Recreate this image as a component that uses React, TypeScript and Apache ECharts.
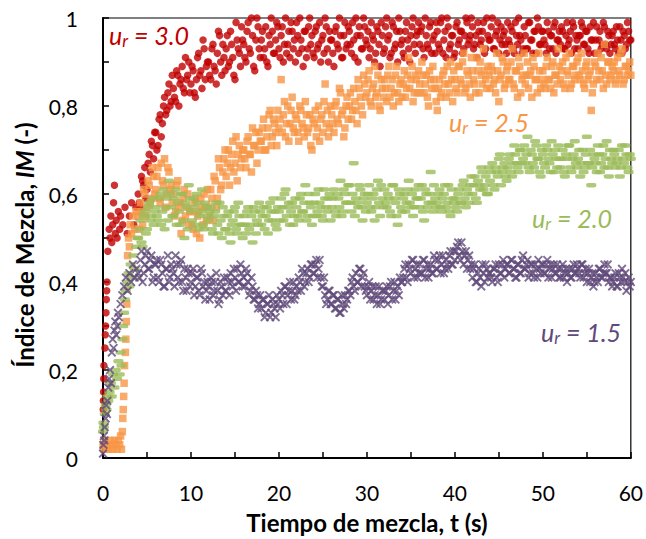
import React, { useEffect, useRef } from "react";
import * as echarts from "echarts";

// Sampling grids (s): series A at t = 4, 4.25, ... 60; series B at t = 4.125, 4.375, ... 59.875
const GRID_A_START = 4;
const GRID_B_START = 4.125;
const GRID_STEP = 0.25;

// Start-up transients, [t (s), IM]
const ur30Start: [number, number][] = [
  [0.02, 0.11], [0.04, 0.13], [0.06, 0.15], [0.08, 0.18], [0.1, 0.21], [0.22, 0.25], [0.26, 0.28],
  [0.3, 0.3], [0.34, 0.33], [0.38, 0.36], [0.42, 0.38], [0.46, 0.4], [0.55, 0.47], [0.7, 0.52],
  [0.8, 0.5], [0.9, 0.55], [1.0, 0.49], [1.1, 0.53], [1.2, 0.58], [1.3, 0.62], [1.4, 0.51],
  [1.5, 0.54], [1.6, 0.5], [1.75, 0.56], [1.9, 0.52], [2.0, 0.55], [2.25, 0.53], [2.5, 0.57],
  [2.75, 0.51], [3.0, 0.55], [3.25, 0.58], [3.5, 0.53], [3.75, 0.57],
];
const ur25Start: [number, number][] = [
  [0.0, 0.03], [0.1, 0.02], [0.25, 0.04], [0.4, 0.02], [0.55, 0.03], [0.7, 0.02], [0.85, 0.04],
  [1.0, 0.03], [1.15, 0.02], [1.3, 0.04], [1.45, 0.03], [1.6, 0.02], [1.75, 0.04], [1.9, 0.03],
  [2.0, 0.05], [2.1, 0.02], [2.2, 0.06], [2.25, 0.09], [2.3, 0.11], [2.35, 0.14], [2.4, 0.17],
  [2.45, 0.21], [2.55, 0.24], [2.6, 0.27], [2.65, 0.31], [2.7, 0.35], [2.8, 0.46], [2.9, 0.5],
  [3.0, 0.48], [3.1, 0.53], [3.25, 0.51], [3.4, 0.55], [3.6, 0.52], [3.75, 0.56],
];
const ur20Start: [number, number][] = [
  [0.0, 0.06], [0.05, 0.08], [0.1, 0.07], [0.2, 0.1], [0.3, 0.12], [0.4, 0.11], [0.5, 0.14],
  [0.6, 0.13], [0.75, 0.15], [0.9, 0.17], [1.0, 0.14], [1.15, 0.19], [1.3, 0.16], [1.45, 0.2],
  [1.6, 0.18], [1.75, 0.22], [1.9, 0.19], [2.0, 0.24], [2.1, 0.21], [2.2, 0.27], [2.3, 0.3],
  [2.4, 0.33], [2.5, 0.36], [2.6, 0.38], [2.75, 0.4], [2.9, 0.42], [3.0, 0.39], [3.15, 0.44],
  [3.3, 0.41], [3.45, 0.46], [3.6, 0.43], [3.75, 0.48], [3.9, 0.5],
];
const ur15Start: [number, number][] = [
  [0.0, 0.01], [0.05, 0.03], [0.1, 0.05], [0.15, 0.04], [0.2, 0.07], [0.3, 0.09], [0.35, 0.12],
  [0.45, 0.1], [0.5, 0.13], [0.6, 0.16], [0.7, 0.18], [0.8, 0.2], [0.9, 0.17], [1.0, 0.24],
  [1.1, 0.27], [1.2, 0.25], [1.3, 0.29], [1.4, 0.31], [1.5, 0.28], [1.6, 0.3], [1.7, 0.33],
  [1.8, 0.32], [2.0, 0.35], [2.2, 0.37], [2.4, 0.39], [2.6, 0.41], [2.8, 0.38], [3.0, 0.42],
  [3.2, 0.4], [3.4, 0.44], [3.6, 0.41], [3.8, 0.43],
];

// IM on grid A (t = 4 ... 60 s, 8 values per 2 s per line)
const ur30A = [
  0.60, 0.57, 0.63, 0.66, 0.61, 0.69, 0.72, 0.68,
  0.74, 0.71, 0.78, 0.76, 0.82, 0.79, 0.85, 0.81,
  0.84, 0.81, 0.87, 0.85, 0.89, 0.83, 0.86, 0.90,
  0.85, 0.88, 0.82, 0.91, 0.87, 0.84, 0.93, 0.89,
  0.90, 0.86, 0.94, 0.88, 0.92, 0.96, 0.87, 0.91,
  0.93, 0.89, 0.97, 0.91, 0.86, 0.95, 0.92, 0.98,
  0.94, 0.90, 0.99, 0.92, 0.96, 0.88, 1.00, 0.93,
  0.95, 0.91, 0.98, 0.89, 0.94, 0.97, 0.92, 0.99,
  0.93, 0.96, 0.90, 1.00, 0.94, 0.91, 0.97, 0.95,
  0.99, 0.92, 0.95, 0.89, 0.97, 0.93, 1.00, 0.96,
  0.91, 0.98, 0.94, 0.90, 0.96, 1.00, 0.93, 0.97,
  0.95, 0.89, 0.98, 0.93, 0.96, 0.91, 0.99, 0.94,
  0.97, 0.92, 0.95, 1.00, 0.90, 0.96, 0.93, 0.98,
  0.94, 0.91, 0.99, 0.95, 0.92, 0.97, 0.89, 0.96,
  0.93, 1.00, 0.96, 0.92, 0.98, 0.94, 0.90, 0.97,
  0.95, 0.91, 0.99, 0.93, 0.96, 1.00, 0.92, 0.97,
  0.94, 0.98, 0.91, 0.96, 0.93, 0.99, 0.95, 0.92,
  0.97, 0.93, 1.00, 0.95, 0.91, 0.98, 0.94, 0.96,
  0.92, 0.99, 0.95, 0.97, 0.93, 1.00, 0.94, 0.96,
  0.98, 0.94, 0.91, 0.97, 0.95, 0.99, 0.93, 0.96,
  0.95, 1.00, 0.93, 0.97, 0.92, 0.98, 0.96, 0.94,
  0.99, 0.94, 0.97, 0.92, 0.96, 1.00, 0.95, 0.93,
  0.96, 0.93, 0.99, 0.95, 0.97, 0.92, 0.98, 0.94,
  0.97, 0.94, 0.99, 0.93, 0.96, 0.98, 0.92, 0.95,
  0.94, 0.97, 0.93, 0.99, 0.95, 0.92, 0.98, 0.96,
  0.93, 0.96, 0.98, 0.94, 0.97, 0.92, 0.95, 0.99,
  0.95, 0.92, 0.97, 0.94, 0.98, 0.93, 0.96, 0.94,
  0.97, 0.93, 0.95, 0.98, 0.92, 0.96, 0.94, 0.97,
  0.95,
];
const ur25A = [
  0.55, 0.58, 0.53, 0.60, 0.57, 0.62, 0.59, 0.64,
  0.61, 0.66, 0.58, 0.63, 0.68, 0.60, 0.65, 0.62,
  0.60, 0.56, 0.63, 0.58, 0.54, 0.61, 0.57, 0.53,
  0.56, 0.52, 0.59, 0.55, 0.50, 0.57, 0.60, 0.54,
  0.57, 0.61, 0.54, 0.63, 0.59, 0.66, 0.62, 0.68,
  0.64, 0.70, 0.66, 0.72, 0.67, 0.63, 0.71, 0.68,
  0.70, 0.66, 0.73, 0.69, 0.75, 0.71, 0.67, 0.74,
  0.72, 0.77, 0.70, 0.75, 0.79, 0.73, 0.76, 0.71,
  0.75, 0.86, 0.78, 0.73, 0.80, 0.76, 0.82, 0.74,
  0.77, 0.72, 0.79, 0.75, 0.81, 0.74, 0.78, 0.70,
  0.76, 0.73, 0.80, 0.77, 0.74, 0.85, 0.79, 0.75,
  0.78, 0.74, 0.81, 0.76, 0.83, 0.79, 0.75, 0.82,
  0.80, 0.77, 0.84, 0.79, 0.86, 0.82, 0.78, 0.85,
  0.83, 0.88, 0.80, 0.85, 0.82, 0.87, 0.79, 0.84,
  0.86, 0.81, 0.89, 0.84, 0.80, 0.87, 0.83, 0.85,
  0.82, 0.88, 0.84, 0.91, 0.86, 0.81, 0.87, 0.83,
  0.85, 0.90, 0.83, 0.87, 0.80, 0.86, 0.89, 0.84,
  0.79, 0.86, 0.83, 0.88, 0.82, 0.85, 0.90, 0.81,
  0.86, 0.83, 0.89, 0.85, 0.92, 0.84, 0.87, 0.82,
  0.88, 0.85, 0.91, 0.83, 0.87, 0.93, 0.86, 0.89,
  0.84, 0.88, 0.86, 0.92, 0.81, 0.87, 0.90, 0.85,
  0.89, 0.86, 0.93, 0.84, 0.88, 0.91, 0.83, 0.87,
  0.85, 0.90, 0.87, 0.82, 0.89, 0.86, 0.92, 0.84,
  0.88, 0.84, 0.91, 0.86, 0.89, 0.83, 0.87, 0.93,
  0.86, 0.90, 0.84, 0.88, 0.92, 0.85, 0.89, 0.87,
  0.91, 0.86, 0.88, 0.84, 0.90, 0.87, 0.79, 0.85,
  0.89, 0.92, 0.86, 0.88, 0.94, 0.85, 0.90, 0.87,
  0.88, 0.85, 0.91, 0.87, 0.93, 0.86, 0.89, 0.88,
  0.87,
];
const ur20A = [
  0.50, 0.54, 0.48, 0.56, 0.52, 0.58, 0.55, 0.53,
  0.57, 0.54, 0.60, 0.56, 0.52, 0.59, 0.63, 0.57,
  0.55, 0.61, 0.58, 0.53, 0.60, 0.50, 0.57, 0.62,
  0.56, 0.59, 0.53, 0.58, 0.55, 0.61, 0.52, 0.57,
  0.54, 0.57, 0.51, 0.56, 0.53, 0.58, 0.50, 0.55,
  0.52, 0.56, 0.49, 0.54, 0.57, 0.51, 0.55, 0.53,
  0.55, 0.51, 0.57, 0.53, 0.49, 0.56, 0.54, 0.58,
  0.53, 0.57, 0.55, 0.51, 0.58, 0.54, 0.56, 0.52,
  0.56, 0.59, 0.54, 0.61, 0.57, 0.53, 0.58, 0.55,
  0.57, 0.54, 0.60, 0.56, 0.62, 0.55, 0.58, 0.53,
  0.58, 0.55, 0.61, 0.57, 0.54, 0.59, 0.56, 0.60,
  0.57, 0.61, 0.55, 0.59, 0.63, 0.56, 0.60, 0.58,
  0.62, 0.56, 0.67, 0.59, 0.57, 0.61, 0.54, 0.60,
  0.58, 0.62, 0.56, 0.60, 0.57, 0.63, 0.55, 0.59,
  0.61, 0.57, 0.59, 0.55, 0.62, 0.58, 0.53, 0.60,
  0.56, 0.60, 0.58, 0.63, 0.57, 0.55, 0.61, 0.59,
  0.57, 0.62, 0.54, 0.60, 0.58, 0.65, 0.56, 0.59,
  0.58, 0.61, 0.56, 0.60, 0.57, 0.62, 0.55, 0.59,
  0.59, 0.56, 0.61, 0.58, 0.63, 0.57, 0.60, 0.62,
  0.60, 0.64, 0.58, 0.62, 0.66, 0.61, 0.64, 0.60,
  0.63, 0.67, 0.61, 0.65, 0.68, 0.62, 0.66, 0.64,
  0.66, 0.69, 0.64, 0.71, 0.67, 0.65, 0.70, 0.68,
  0.67, 0.73, 0.65, 0.69, 0.66, 0.71, 0.68, 0.64,
  0.69, 0.66, 0.70, 0.67, 0.72, 0.65, 0.68, 0.71,
  0.66, 0.70, 0.64, 0.68, 0.71, 0.65, 0.69, 0.67,
  0.68, 0.64, 0.70, 0.66, 0.73, 0.67, 0.62, 0.69,
  0.67, 0.71, 0.65, 0.69, 0.66, 0.72, 0.64, 0.68,
  0.70, 0.66, 0.68, 0.64, 0.71, 0.67, 0.69, 0.65,
  0.68,
];
const ur15A = [
  0.42, 0.45, 0.40, 0.44, 0.47, 0.43, 0.46, 0.41,
  0.44, 0.41, 0.45, 0.42, 0.39, 0.43, 0.40, 0.44,
  0.42, 0.46, 0.41, 0.44, 0.40, 0.43, 0.38, 0.42,
  0.40, 0.43, 0.39, 0.41, 0.37, 0.42, 0.40, 0.38,
  0.39, 0.41, 0.37, 0.40, 0.38, 0.36, 0.39, 0.41,
  0.38, 0.40, 0.42, 0.39, 0.41, 0.43, 0.40, 0.42,
  0.41, 0.43, 0.40, 0.38, 0.39, 0.36, 0.37, 0.35,
  0.34, 0.36, 0.33, 0.35, 0.32, 0.36, 0.34, 0.37,
  0.36, 0.38, 0.35, 0.39, 0.37, 0.40, 0.38, 0.36,
  0.39, 0.41, 0.38, 0.42, 0.40, 0.43, 0.41, 0.44,
  0.42, 0.45, 0.43, 0.41, 0.39, 0.37, 0.36, 0.38,
  0.35, 0.37, 0.34, 0.36, 0.33, 0.35, 0.37, 0.36,
  0.38, 0.40, 0.39, 0.42, 0.40, 0.43, 0.41, 0.39,
  0.37, 0.40, 0.38, 0.36, 0.39, 0.37, 0.35, 0.38,
  0.36, 0.39, 0.37, 0.40, 0.38, 0.36, 0.39, 0.41,
  0.40, 0.43, 0.41, 0.44, 0.42, 0.45, 0.43, 0.41,
  0.44, 0.42, 0.45, 0.43, 0.41, 0.44, 0.42, 0.45,
  0.43, 0.46, 0.44, 0.42, 0.45, 0.43, 0.47, 0.44,
  0.45, 0.48, 0.46, 0.49, 0.44, 0.47, 0.45, 0.43,
  0.41, 0.44, 0.40, 0.43, 0.39, 0.42, 0.44, 0.41,
  0.42, 0.40, 0.43, 0.41, 0.44, 0.42, 0.45, 0.43,
  0.44, 0.42, 0.45, 0.43, 0.41, 0.44, 0.42, 0.46,
  0.43, 0.45, 0.42, 0.44, 0.41, 0.43, 0.45, 0.42,
  0.44, 0.42, 0.45, 0.43, 0.41, 0.44, 0.42, 0.43,
  0.41, 0.44, 0.42, 0.40, 0.43, 0.41, 0.44, 0.42,
  0.43, 0.41, 0.44, 0.42, 0.40, 0.43, 0.41, 0.39,
  0.42, 0.40, 0.43, 0.41, 0.44, 0.42, 0.40, 0.41,
  0.40, 0.42, 0.39, 0.41, 0.43, 0.40, 0.38, 0.41,
  0.40,
];

// IM on grid B (t = 4.125 ... 59.875 s, 8 values per 2 s per line)
const ur30B = [
  0.58, 0.64, 0.62, 0.59, 0.67, 0.65, 0.71, 0.74,
  0.70, 0.77, 0.73, 0.80, 0.78, 0.83, 0.80, 0.87,
  0.82, 0.88, 0.80, 0.86, 0.84, 0.91, 0.87, 0.83,
  0.89, 0.83, 0.86, 0.92, 0.88, 0.95, 0.86, 0.90,
  0.87, 0.93, 0.89, 0.85, 0.97, 0.90, 0.94, 0.88,
  0.96, 0.90, 0.94, 0.87, 0.99, 0.93, 0.89, 0.95,
  0.91, 0.97, 0.93, 1.00, 0.89, 0.95, 0.98, 0.91,
  0.97, 0.93, 0.90, 0.96, 1.00, 0.92, 0.95, 0.98,
  0.91, 0.98, 0.94, 0.92, 0.97, 0.99, 0.93, 0.90,
  0.96, 1.00, 0.93, 0.97, 0.91, 0.98, 0.94, 0.92,
  0.97, 0.93, 0.99, 0.95, 0.92, 0.98, 0.90, 0.95,
  0.92, 0.97, 0.94, 1.00, 0.91, 0.96, 0.93, 0.98,
  0.94, 0.99, 0.91, 0.96, 0.98, 0.93, 1.00, 0.95,
  0.97, 0.93, 0.96, 0.90, 0.98, 0.94, 0.99, 0.92,
  0.98, 0.95, 0.91, 0.99, 0.93, 0.97, 1.00, 0.94,
  0.92, 0.97, 0.95, 0.90, 0.98, 0.94, 0.96, 0.99,
  0.97, 0.93, 1.00, 0.94, 0.98, 0.92, 0.96, 0.99,
  0.94, 0.99, 0.92, 0.97, 1.00, 0.93, 0.96, 0.91,
  0.98, 0.94, 0.97, 0.92, 0.96, 0.99, 0.95, 1.00,
  0.93, 0.96, 0.99, 0.94, 0.97, 0.92, 1.00, 0.95,
  0.98, 0.93, 0.96, 0.99, 0.95, 0.94, 0.97, 0.92,
  0.95, 0.98, 0.93, 0.99, 0.94, 0.96, 0.92, 0.98,
  0.93, 0.99, 0.95, 0.92, 0.97, 1.00, 0.94, 0.97,
  0.95, 0.92, 0.97, 0.96, 0.93, 0.99, 0.95, 0.97,
  0.98, 0.93, 0.96, 0.94, 0.97, 0.99, 0.93, 0.95,
  0.96, 0.99, 0.94, 0.97, 0.93, 0.98, 0.95, 0.92,
  0.98, 0.95, 0.93, 0.99, 0.94, 0.97, 0.92, 0.96,
  0.94, 0.98, 0.92, 0.95, 0.97, 0.93, 0.99, 0.95,
];
const ur25B = [
  0.52, 0.56, 0.61, 0.55, 0.63, 0.58, 0.66, 0.60,
  0.64, 0.59, 0.67, 0.62, 0.57, 0.66, 0.61, 0.58,
  0.55, 0.62, 0.57, 0.51, 0.59, 0.55, 0.60, 0.56,
  0.53, 0.58, 0.51, 0.56, 0.59, 0.53, 0.57, 0.61,
  0.55, 0.59, 0.64, 0.57, 0.68, 0.61, 0.65, 0.70,
  0.67, 0.62, 0.69, 0.65, 0.73, 0.69, 0.66, 0.70,
  0.68, 0.72, 0.69, 0.65, 0.71, 0.74, 0.70, 0.72,
  0.75, 0.70, 0.73, 0.78, 0.71, 0.77, 0.74, 0.79,
  0.77, 0.74, 0.81, 0.76, 0.72, 0.79, 0.75, 0.78,
  0.74, 0.80, 0.76, 0.73, 0.78, 0.75, 0.71, 0.77,
  0.79, 0.75, 0.72, 0.78, 0.81, 0.76, 0.73, 0.80,
  0.76, 0.80, 0.77, 0.84, 0.78, 0.73, 0.80, 0.77,
  0.83, 0.79, 0.81, 0.76, 0.84, 0.80, 0.87, 0.82,
  0.86, 0.81, 0.84, 0.89, 0.83, 0.80, 0.86, 0.82,
  0.84, 0.87, 0.82, 0.86, 0.83, 0.89, 0.81, 0.86,
  0.85, 0.82, 0.87, 0.84, 0.89, 0.83, 0.86, 0.88,
  0.83, 0.87, 0.85, 0.82, 0.88, 0.84, 0.86, 0.81,
  0.84, 0.82, 0.87, 0.85, 0.89, 0.83, 0.86, 0.88,
  0.84, 0.89, 0.86, 0.90, 0.83, 0.88, 0.85, 0.91,
  0.86, 0.83, 0.88, 0.90, 0.85, 0.88, 0.84, 0.87,
  0.89, 0.85, 0.83, 0.88, 0.86, 0.91, 0.84, 0.88,
  0.86, 0.90, 0.85, 0.88, 0.82, 0.89, 0.86, 0.92,
  0.87, 0.84, 0.88, 0.91, 0.86, 0.83, 0.88, 0.86,
  0.85, 0.89, 0.86, 0.84, 0.90, 0.87, 0.85, 0.89,
  0.88, 0.85, 0.91, 0.87, 0.84, 0.89, 0.86, 0.90,
  0.87, 0.92, 0.85, 0.89, 0.86, 0.88, 0.83, 0.90,
  0.86, 0.88, 0.91, 0.84, 0.87, 0.90, 0.86, 0.89,
  0.90, 0.86, 0.88, 0.92, 0.85, 0.89, 0.87, 0.90,
];
const ur20B = [
  0.52, 0.49, 0.55, 0.51, 0.57, 0.54, 0.59, 0.56,
  0.55, 0.59, 0.53, 0.61, 0.57, 0.54, 0.60, 0.55,
  0.59, 0.53, 0.56, 0.60, 0.54, 0.58, 0.52, 0.59,
  0.54, 0.57, 0.60, 0.52, 0.56, 0.53, 0.58, 0.55,
  0.56, 0.52, 0.55, 0.58, 0.51, 0.54, 0.57, 0.52,
  0.55, 0.51, 0.53, 0.56, 0.52, 0.58, 0.53, 0.50,
  0.53, 0.56, 0.52, 0.55, 0.57, 0.51, 0.53, 0.56,
  0.55, 0.52, 0.57, 0.54, 0.56, 0.59, 0.53, 0.57,
  0.54, 0.57, 0.60, 0.55, 0.58, 0.56, 0.53, 0.59,
  0.55, 0.59, 0.56, 0.58, 0.54, 0.60, 0.57, 0.55,
  0.60, 0.56, 0.58, 0.55, 0.61, 0.57, 0.59, 0.54,
  0.59, 0.56, 0.60, 0.57, 0.55, 0.61, 0.58, 0.62,
  0.58, 0.60, 0.55, 0.58, 0.62, 0.57, 0.59, 0.56,
  0.60, 0.57, 0.59, 0.54, 0.61, 0.58, 0.62, 0.57,
  0.58, 0.60, 0.56, 0.62, 0.59, 0.55, 0.61, 0.57,
  0.59, 0.56, 0.61, 0.58, 0.60, 0.57, 0.59, 0.62,
  0.59, 0.56, 0.61, 0.57, 0.60, 0.58, 0.62, 0.57,
  0.60, 0.57, 0.59, 0.62, 0.58, 0.56, 0.61, 0.58,
  0.57, 0.60, 0.58, 0.62, 0.59, 0.61, 0.58, 0.64,
  0.62, 0.59, 0.63, 0.61, 0.65, 0.62, 0.60, 0.66,
  0.65, 0.62, 0.66, 0.64, 0.69, 0.65, 0.67, 0.63,
  0.68, 0.65, 0.67, 0.69, 0.66, 0.70, 0.67, 0.71,
  0.69, 0.66, 0.70, 0.67, 0.72, 0.68, 0.65, 0.70,
  0.67, 0.71, 0.68, 0.65, 0.69, 0.70, 0.66, 0.68,
  0.68, 0.65, 0.69, 0.71, 0.66, 0.68, 0.72, 0.66,
  0.70, 0.67, 0.65, 0.69, 0.67, 0.70, 0.66, 0.68,
  0.65, 0.69, 0.67, 0.71, 0.68, 0.66, 0.70, 0.67,
  0.69, 0.67, 0.70, 0.66, 0.68, 0.71, 0.66, 0.69,
];
const ur15B = [
  0.41, 0.47, 0.42, 0.46, 0.43, 0.45, 0.40, 0.44,
  0.45, 0.40, 0.44, 0.39, 0.43, 0.46, 0.41, 0.43,
  0.39, 0.44, 0.40, 0.45, 0.38, 0.41, 0.43, 0.39,
  0.42, 0.37, 0.41, 0.38, 0.43, 0.39, 0.36, 0.40,
  0.36, 0.40, 0.38, 0.42, 0.35, 0.40, 0.37, 0.38,
  0.41, 0.37, 0.40, 0.43, 0.38, 0.40, 0.44, 0.39,
  0.39, 0.42, 0.37, 0.41, 0.36, 0.38, 0.34, 0.37,
  0.36, 0.32, 0.35, 0.37, 0.33, 0.35, 0.32, 0.35,
  0.34, 0.37, 0.39, 0.35, 0.38, 0.36, 0.40, 0.37,
  0.38, 0.40, 0.43, 0.39, 0.42, 0.40, 0.44, 0.42,
  0.44, 0.41, 0.45, 0.39, 0.41, 0.35, 0.38, 0.35,
  0.37, 0.34, 0.36, 0.33, 0.37, 0.34, 0.35, 0.38,
  0.37, 0.41, 0.38, 0.40, 0.43, 0.39, 0.42, 0.38,
  0.39, 0.36, 0.39, 0.37, 0.35, 0.39, 0.36, 0.38,
  0.38, 0.35, 0.39, 0.36, 0.40, 0.38, 0.37, 0.40,
  0.41, 0.44, 0.40, 0.43, 0.45, 0.41, 0.44, 0.42,
  0.42, 0.45, 0.41, 0.44, 0.43, 0.42, 0.46, 0.43,
  0.45, 0.42, 0.46, 0.43, 0.44, 0.46, 0.44, 0.47,
  0.47, 0.49, 0.45, 0.47, 0.46, 0.43, 0.46, 0.44,
  0.43, 0.40, 0.42, 0.41, 0.44, 0.40, 0.43, 0.42,
  0.41, 0.43, 0.44, 0.40, 0.42, 0.44, 0.41, 0.44,
  0.42, 0.45, 0.43, 0.41, 0.44, 0.42, 0.45, 0.43,
  0.44, 0.41, 0.44, 0.42, 0.44, 0.41, 0.43, 0.44,
  0.42, 0.44, 0.41, 0.44, 0.43, 0.42, 0.44, 0.41,
  0.43, 0.41, 0.43, 0.42, 0.41, 0.43, 0.42, 0.44,
  0.42, 0.44, 0.41, 0.43, 0.42, 0.40, 0.42, 0.40,
  0.41, 0.43, 0.41, 0.42, 0.42, 0.44, 0.41, 0.39,
  0.41, 0.39, 0.42, 0.40, 0.41, 0.42, 0.40, 0.39,
];

const seriesNames = ["u_r = 3.0", "u_r = 2.5", "u_r = 2.0", "u_r = 1.5"];
const seriesLabels = ["3.0", "2.5", "2.0", "1.5"];
const xTicks = [0, 10, 20, 30, 40, 50, 60];
const yTicks = [0, 0.2, 0.4, 0.6, 0.8, 1];

const COLORS = ["#C00000", "#F79646", "#9BBB59", "#604A7B"];
const FONT = "Lato, 'Open Sans', sans-serif";
const CROSS = "path://M1.5,0L5,3.5L8.5,0L10,1.5L6.5,5L10,8.5L8.5,10L5,6.5L1.5,10L0,8.5L3.5,5L0,1.5Z";

function build(start: [number, number][], a: number[], b: number[]): [number, number][] {
  const pa = a.map((y, i) => [GRID_A_START + i * GRID_STEP, y] as [number, number]);
  const pb = b.map((y, i) => [GRID_B_START + i * GRID_STEP, y] as [number, number]);
  return [...start, ...pa, ...pb];
}

export default function App() {
  const ref = useRef<HTMLDivElement>(null);
  useEffect(() => {
    if (!ref.current) return;
    const chart = echarts.init(ref.current, undefined, { renderer: "svg" });
    const labelPos = [
      { x: 109, y: 22 },
      { x: 449, y: 109 },
      { x: 532, y: 205 },
      { x: 541, y: 319 },
    ];
    const annotation = (i: number) => ({
      type: "text",
      left: labelPos[i].x,
      top: labelPos[i].y,
      silent: true,
      style: {
        text: `{a|u}{b|r}{a| = ${seriesLabels[i]}}`,
        fill: COLORS[i],
        rich: {
          a: { fontSize: 25, fontStyle: "italic", fontFamily: FONT, fill: COLORS[i], lineHeight: 28 },
          b: { fontSize: 17, fontStyle: "italic", fontFamily: FONT, fill: COLORS[i], lineHeight: 16, verticalAlign: "bottom" },
        },
      },
    });
    chart.setOption({
      animation: false,
      grid: { left: 103, right: 14, top: 18, bottom: 80, show: true, borderColor: "#000", borderWidth: 1.2, containLabel: false },
      xAxis: {
        type: "value",
        min: 0,
        max: 60,
        interval: 10,
        name: "Tiempo de mezcla, t (s)",
        nameLocation: "middle",
        nameGap: 52,
        nameTextStyle: { fontFamily: FONT, fontWeight: "bold", fontSize: 24, color: "#000" },
        axisLine: { show: true, lineStyle: { color: "#000", width: 2 } },
        axisTick: { show: true, inside: true, length: 6, lineStyle: { color: "#000", width: 1.5 } },
        minorTick: { show: true, splitNumber: 2, length: 6, lineStyle: { color: "#000", width: 1.5 } },
        axisLabel: { fontFamily: FONT, fontSize: 21, color: "#000", margin: 24, formatter: (v: number) => (xTicks.includes(v) ? String(v) : "") },
        splitLine: { show: false },
      },
      yAxis: {
        type: "value",
        min: 0,
        max: 1,
        interval: 0.2,
        name: "{b|Índice de Mezcla, }{i|IM}{b| (-)}",
        nameLocation: "middle",
        nameGap: 67,
        nameRotate: 90,
        nameTextStyle: {
          fontFamily: FONT,
          fontWeight: "bold",
          fontSize: 24,
          color: "#000",
          padding: [0, 14, 0, 0],
          rich: {
            b: { fontFamily: FONT, fontWeight: "bold", fontSize: 24, color: "#000" },
            i: { fontFamily: FONT, fontWeight: "bold", fontStyle: "italic", fontSize: 24, color: "#000" },
          },
        },
        axisLine: { show: true, lineStyle: { color: "#000", width: 2 } },
        axisTick: { show: true, inside: true, length: 6, lineStyle: { color: "#000", width: 1.5 } },
        minorTick: { show: true, splitNumber: 2, length: 6, lineStyle: { color: "#000", width: 1.5 } },
        axisLabel: {
          fontFamily: FONT,
          fontSize: 21,
          color: "#000",
          margin: 25,
          formatter: (v: number) => {
            const t = yTicks.find((k) => Math.abs(k - v) < 1e-9);
            if (t === undefined) return "";
            if (t === 0) return "0";
            if (t === 1) return "1";
            return t.toFixed(1).replace(".", ",");
          },
        },
        splitLine: { show: false },
      },
      series: [
        { name: seriesNames[0], type: "scatter", clip: false, symbol: "circle", symbolSize: 7.5, itemStyle: { color: COLORS[0] }, data: build(ur30Start, ur30A, ur30B) },
        { name: seriesNames[1], type: "scatter", clip: false, symbol: "rect", symbolSize: 7.5, itemStyle: { color: COLORS[1] }, data: build(ur25Start, ur25A, ur25B) },
        { name: seriesNames[2], type: "scatter", clip: false, symbol: "roundRect", symbolSize: [10, 4.5], itemStyle: { color: COLORS[2] }, data: build(ur20Start, ur20A, ur20B) },
        { name: seriesNames[3], type: "scatter", clip: false, symbol: CROSS, symbolSize: 9, itemStyle: { color: COLORS[3] }, data: build(ur15Start, ur15A, ur15B) },
      ],
      graphic: [annotation(0), annotation(1), annotation(2), annotation(3)],
    });
    return () => chart.dispose();
  }, []);
  return <div ref={ref} style={{ width: 646, height: 539, position: "absolute", left: 0, top: 0, background: "#fff" }} />;
}
